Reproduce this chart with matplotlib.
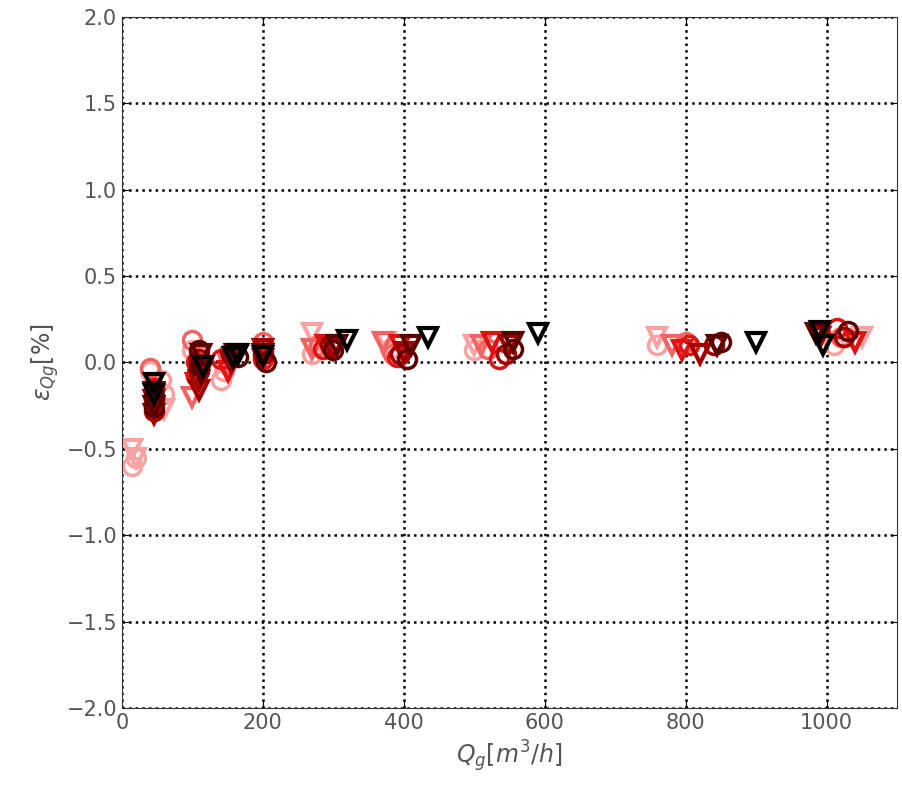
import matplotlib
matplotlib.use('Agg')
import matplotlib.pyplot as plt

plt.rcParams['mathtext.fontset'] = 'dejavusans'

# ------------------------------------------------------| Data
# colours go from light pink (lowest) to black (highest)
colors = ['#f7a3a3', '#f26464', '#e01212', '#a30000', '#5c0000', '#000000']

# circles: Q_g [m3/h], error [%]
circ_q = [
    [15, 20, 40, 55, 60, 100, 140, 145, 270, 380, 500, 760, 1010],
    [40, 100, 110, 150, 200, 280, 385, 520, 800, 1020],
    [45, 45, 105, 105, 140, 200, 200, 285, 390, 535, 805, 1015],
    [45, 45, 110, 110, 155, 200, 295, 395, 545, 840, 1025],
    [45, 45, 110, 110, 165, 205, 300, 405, 555, 850, 1030],
    [],
]
circ_e = [
    [-0.60, -0.55, -0.05, -0.10, -0.18, 0.07, -0.10, -0.05, 0.05, 0.08, 0.07, 0.10, 0.10],
    [-0.03, 0.13, 0.05, 0.05, 0.12, 0.10, 0.05, 0.08, 0.12, 0.15],
    [-0.15, -0.22, 0.00, -0.08, 0.02, 0.08, 0.02, 0.08, 0.03, 0.02, 0.10, 0.20],
    [-0.28, -0.20, -0.05, 0.02, 0.05, 0.05, 0.10, 0.05, 0.05, 0.10, 0.15],
    [-0.20, -0.26, 0.07, -0.02, 0.03, 0.00, 0.07, 0.02, 0.08, 0.12, 0.18],
    [],
]

# triangles: Q_g [m3/h], error [%]
tri_q = [
    [15, 20, 60, 110, 270, 375, 500, 760, 1050],
    [45, 100, 150, 270, 370, 510, 780, 1040],
    [45, 105, 150, 200, 290, 395, 525, 795, 1040],
    [45, 45, 110, 110, 155, 200, 300, 400, 550, 820, 990],
    [45, 45, 112, 112, 160, 200, 305, 410, 555, 845, 985],
    [45, 45, 115, 158, 165, 200, 320, 435, 590, 900, 990, 995],
]
tri_e = [
    [-0.50, -0.55, -0.27, -0.05, 0.17, 0.12, 0.10, 0.15, 0.15],
    [-0.25, -0.20, 0.00, 0.08, 0.12, 0.10, 0.10, 0.12],
    [-0.22, -0.12, -0.05, 0.02, 0.10, 0.10, 0.12, 0.07, 0.12],
    [-0.30, -0.22, -0.10, -0.16, 0.00, 0.08, 0.08, 0.06, 0.10, 0.05, 0.15],
    [-0.25, -0.17, 0.05, -0.06, 0.05, 0.05, 0.10, 0.10, 0.12, 0.10, 0.17],
    [-0.12, -0.18, -0.02, 0.03, 0.05, 0.04, 0.13, 0.15, 0.17, 0.12, 0.18, 0.10],
]

# ------------------------------------------------------| Plotting
fig = plt.figure(figsize=(9.03, 7.87), dpi=100)
ax = fig.add_axes([0.135, 0.1004, 0.8584, 0.878])

for i in range(len(colors)):
    ax.plot(circ_q[i], circ_e[i], linestyle='none', marker='o', markersize=13,
            markerfacecolor='none', markeredgecolor=colors[i], markeredgewidth=2.5)
    ax.plot(tri_q[i], tri_e[i], linestyle='none', marker='v', markersize=13,
            markerfacecolor='none', markeredgecolor=colors[i], markeredgewidth=3)

ax.set_xlim(0, 1100)
ax.set_ylim(-2.0, 2.0)
ax.set_xticks([0, 200, 400, 600, 800, 1000])
ax.set_yticks([-2.0, -1.5, -1.0, -0.5, 0.0, 0.5, 1.0, 1.5, 2.0])
ax.grid(True, color='black', linestyle=':', linewidth=1.8)
ax.tick_params(direction='in', top=True, right=True, labelsize=15,
               labelcolor='#555555', length=5)
for s in ax.spines.values():
    s.set_color('#333333')

ax.set_xlabel(r'$Q_g[m^3/h]$', fontsize=17, color='#555555')
ax.set_ylabel(r'$\varepsilon_{Qg}[\%]$', fontsize=17, color='#555555')

fig.savefig('out.png', dpi=100)
